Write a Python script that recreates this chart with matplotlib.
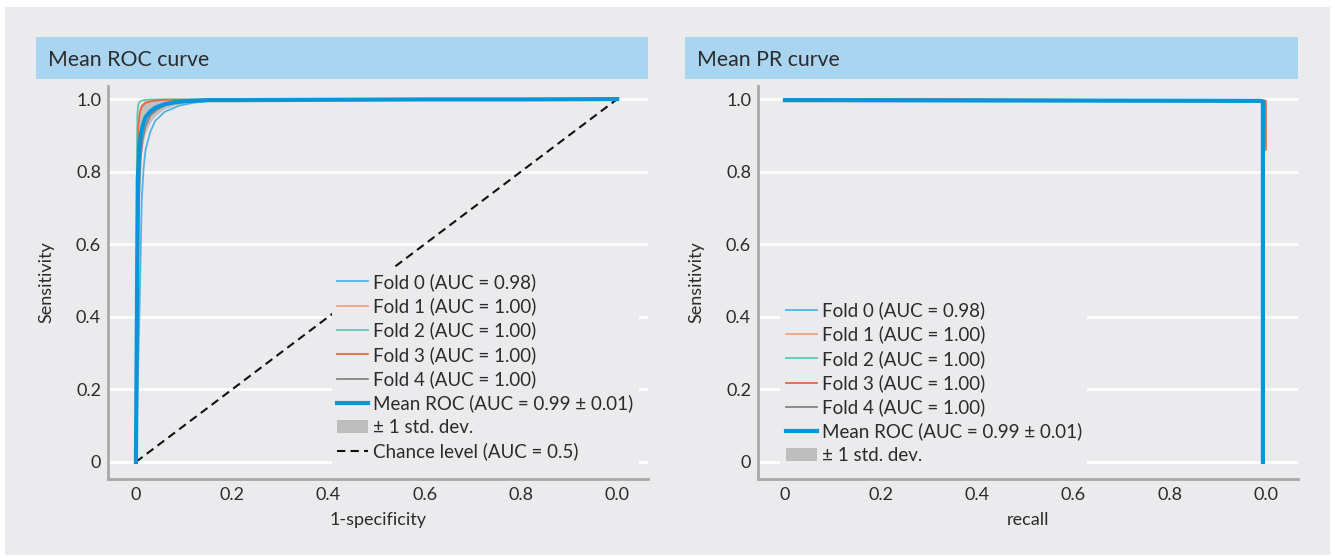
import matplotlib
matplotlib.use("Agg")
import matplotlib.pyplot as plt
from matplotlib.patches import Rectangle, Patch
from matplotlib.lines import Line2D

plt.rcParams['font.family'] = ['Lato', 'DejaVu Sans']

# ---- data ----
fold_labels = ['Fold 0 (AUC = 0.98)', 'Fold 1 (AUC = 1.00)', 'Fold 2 (AUC = 1.00)',
               'Fold 3 (AUC = 1.00)', 'Fold 4 (AUC = 1.00)']
fold_colors = ['#4fb3e6', '#f2a283', '#5cc8b6', '#e6693f', '#858585']

# ROC per fold (fpr, tpr)
roc_fpr = [
    [0, 0.008, 0.012, 0.016, 0.02, 0.03, 0.04, 0.06, 0.09, 0.12, 0.16, 0.3, 1.0],
    [0, 0.003, 0.005, 0.008, 0.012, 0.02, 0.03, 0.05, 1.0],
    [0, 0.002, 0.003, 0.005, 0.008, 0.015, 0.03, 1.0],
    [0, 0.003, 0.005, 0.008, 0.012, 0.02, 0.035, 0.06, 1.0],
    [0, 0.006, 0.01, 0.014, 0.02, 0.03, 0.045, 0.065, 0.1, 0.14, 1.0],
]
roc_tpr = [
    [0, 0.45, 0.72, 0.81, 0.86, 0.91, 0.94, 0.965, 0.982, 0.99, 0.996, 0.998, 1.0],
    [0, 0.80, 0.93, 0.965, 0.982, 0.992, 0.996, 0.998, 1.0],
    [0, 0.85, 0.96, 0.985, 0.993, 0.997, 0.999, 1.0],
    [0, 0.78, 0.92, 0.96, 0.978, 0.99, 0.995, 0.998, 1.0],
    [0, 0.70, 0.84, 0.89, 0.925, 0.955, 0.972, 0.985, 0.993, 0.997, 1.0],
]
mean_fpr = [0, 0.004, 0.008, 0.012, 0.016, 0.02, 0.03, 0.04, 0.06, 0.08, 0.1, 0.15, 0.2, 0.4, 0.6, 0.8, 1.0]
mean_tpr = [0, 0.78, 0.88, 0.915, 0.935, 0.95, 0.966, 0.976, 0.986, 0.991, 0.994, 0.997, 0.997, 0.998, 0.999, 0.999, 1.0]
std_tpr = [0, 0.10, 0.07, 0.06, 0.05, 0.042, 0.03, 0.022, 0.013, 0.008, 0.005, 0.003, 0.002, 0.001, 0.001, 0.001, 0]

# PR per fold (recall, precision)
pr_recall = [
    [0, 0.5, 0.99, 0.996, 0.996],
    [0, 0.5, 0.99, 1.0, 1.0],
    [0, 0.5, 0.99, 0.997, 0.997],
    [0, 0.5, 0.99, 1.0, 1.0],
    [0, 0.5, 0.99, 0.998, 0.998],
]
pr_precision = [
    [1.0, 0.998, 0.997, 0.995, 0.90],
    [1.0, 0.998, 0.997, 0.995, 0.87],
    [1.0, 0.998, 0.997, 0.996, 0.93],
    [1.0, 0.998, 0.997, 0.995, 0.86],
    [1.0, 0.998, 0.997, 0.995, 0.92],
]
mean_recall = [0, 0.5, 0.99, 0.994, 0.994]
mean_precision = [0.997, 0.996, 0.995, 0.99, 0.0]
std_precision = [0.001, 0.001, 0.002, 0.05, 0.0]

x_ticks = [0, 0.2, 0.4, 0.6, 0.8, 1.0]
x_ticklabels = ['0', '0.2', '0.4', '0.6', '0.8', '0.0']
y_ticks = [0, 0.2, 0.4, 0.6, 0.8, 1.0]
y_ticklabels = ['0', '0.2', '0.4', '0.6', '0.8', '1.0']

BG = '#ebebed'
BAR = '#a9d5f0'
MEAN_C = '#0a95d8'
STD_C = '#bdbdbd'
TXT = '#2b2b2b'

W, H = 1335, 558
fig = plt.figure(figsize=(W / 100, H / 100), dpi=100, facecolor='white')
fig.patches.append(Rectangle((5 / W, 3 / H), 1325 / W, 548 / H, transform=fig.transFigure,
                             facecolor=BG, edgecolor='none', zorder=-10))


def px_box(x0, y0, x1, y1):
    return [x0 / W, (H - y1) / H, (x1 - x0) / W, (y1 - y0) / H]


def title_bar(x0, x1, text):
    bar = fig.add_axes(px_box(x0, 37, x1, 79))
    bar.set_facecolor(BAR)
    bar.set_xticks([])
    bar.set_yticks([])
    for s in bar.spines.values():
        s.set_visible(False)
    bar.text(12 / (x1 - x0), 0.46, text, transform=bar.transAxes, va='center', ha='left',
             fontsize=15.3, color=TXT)


def style_axes(ax, xlabel, xlim):
    ax.set_facecolor(BG)
    ax.set_xlim(*xlim)
    ax.set_ylim(-0.047, 1.036)
    for s in ['top', 'right']:
        ax.spines[s].set_visible(False)
    for s in ['left', 'bottom']:
        ax.spines[s].set_color('#a8a8a8')
        ax.spines[s].set_linewidth(2)
    ax.set_xticks(x_ticks)
    ax.set_xticklabels(x_ticklabels)
    ax.set_yticks(y_ticks)
    ax.set_yticklabels(y_ticklabels)
    ax.tick_params(length=0, labelsize=13, labelcolor=TXT, pad=6)
    ax.tick_params(axis='y', pad=5)
    ax.yaxis.grid(True, color='white', linewidth=2)
    ax.xaxis.grid(False)
    ax.set_axisbelow(True)
    ax.set_ylabel('Sensitivity', fontsize=13, color=TXT)
    ax.set_xlabel(xlabel, fontsize=13, color=TXT)
    ax.yaxis.set_label_coords(-0.10, 0.5)
    ax.xaxis.set_label_coords(0.5, -0.085)


leg_kw = dict(fontsize=13.5, frameon=True, facecolor=BG, edgecolor='none', framealpha=1,
              handlelength=1.65, handletextpad=0.25, labelspacing=0.34, borderpad=0.3,
              fancybox=False)

# ---- left: ROC ----
title_bar(36, 648, 'Mean ROC curve')
ax1 = fig.add_axes(px_box(108, 86, 648, 479))
style_axes(ax1, '1-specificity', (-0.058, 1.064))
handles = []
for i in range(5):
    ln, = ax1.plot(roc_fpr[i], roc_tpr[i], color=fold_colors[i], lw=1.3, label=fold_labels[i])
    handles.append(ln)
upper = [min(m + s, 1.0) for m, s in zip(mean_tpr, std_tpr)]
lower = [max(m - s, 0.0) for m, s in zip(mean_tpr, std_tpr)]
ax1.fill_between(mean_fpr, lower, upper, color=STD_C, alpha=0.9, lw=0, zorder=1.5)
mean_ln, = ax1.plot(mean_fpr, mean_tpr, color=MEAN_C, lw=3, label='Mean ROC (AUC = 0.99 \u00b1 0.01)', zorder=3)
chance_ln, = ax1.plot([0, 1], [0, 1], color='#111111', lw=1.5, ls=(0, (4, 2.5)), zorder=2)
std_patch = Patch(facecolor=STD_C, edgecolor='none', label='\u00b1 1 std. dev.')
chance_h = Line2D([], [], color='#111111', lw=1.5, ls=(0, (4, 2.5)), label='Chance level (AUC = 0.5)')
leg1 = ax1.legend(handles=handles + [mean_ln, std_patch, chance_h], loc='lower right',
                  bbox_to_anchor=(1.0, 0.01), **leg_kw)
for t in leg1.get_texts():
    t.set_color(TXT)
leg1.set_zorder(5)

# ---- right: PR ----
title_bar(685, 1298, 'Mean PR curve')
ax2 = fig.add_axes(px_box(758, 86, 1298, 479))
style_axes(ax2, 'recall', (-0.056, 1.067))
handles2 = []
for i in range(5):
    ln, = ax2.plot(pr_recall[i], pr_precision[i], color=fold_colors[i], lw=1.3, label=fold_labels[i])
    handles2.append(ln)
up2 = [min(m + s, 1.0) for m, s in zip(mean_precision, std_precision)]
lo2 = [max(m - s, 0.0) for m, s in zip(mean_precision, std_precision)]
ax2.fill_between(mean_recall, lo2, up2, color=STD_C, alpha=0.9, lw=0, zorder=1.5)
mean2, = ax2.plot(mean_recall, mean_precision, color=MEAN_C, lw=3, label='Mean ROC (AUC = 0.99 \u00b1 0.01)', zorder=3)
leg2 = ax2.legend(handles=handles2 + [mean2, std_patch], loc='lower left',
                  bbox_to_anchor=(0.024, 0.0), **leg_kw)
for t in leg2.get_texts():
    t.set_color(TXT)

fig.savefig('out.png', dpi=100, facecolor='white')
